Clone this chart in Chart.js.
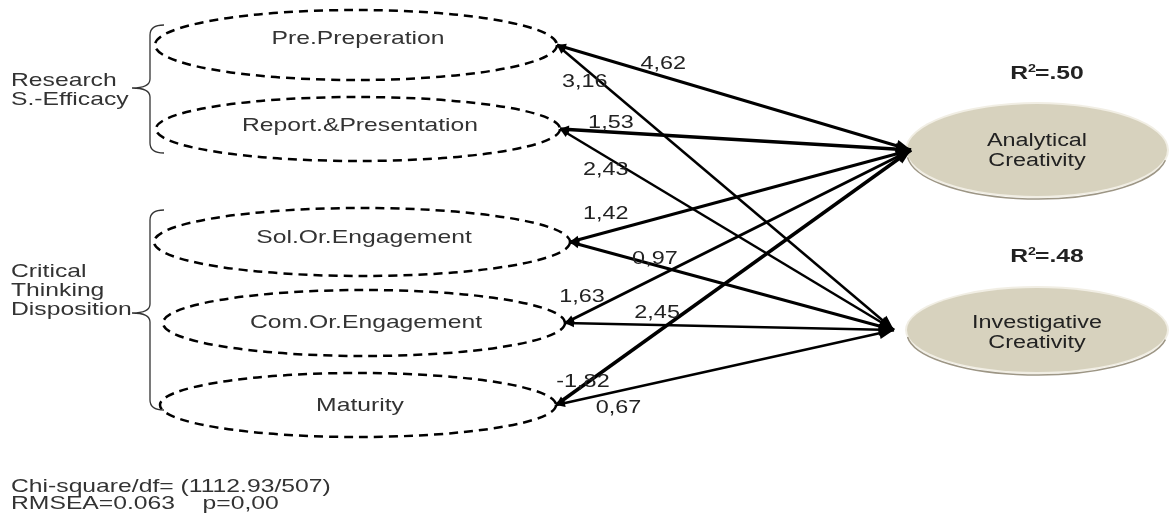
<!DOCTYPE html>
<html>
<head>
<meta charset="utf-8">
<script src="https://cdn.jsdelivr.net/npm/chart.js@4.4.0/dist/chart.umd.min.js"></script>
<style>
  html, body { margin: 0; padding: 0; background: #fff; }
  canvas { display: block; }
</style>
</head>
<body>
<canvas id="sem" width="1173" height="522"></canvas>
<script>
// path model content
const predictors = ["Pre.Preperation", "Report.&Presentation", "Sol.Or.Engagement", "Com.Or.Engagement", "Maturity"];
const outcomes = [["Analytical", "Creativity"], ["Investigative", "Creativity"]];
const toAnalytical = [4.62, 1.53, 1.42, 1.63, -1.82];
const toInvestigative = [3.16, 2.43, 0.97, 2.45, 0.67];
const rSquared = [".50", ".48"];
const groupLabels = [["Research", "S.-Efficacy"], ["Critical", "Thinking", "Disposition"]];
const fitLines = ["Chi-square/df= (1112.93/507)", "RMSEA=0.063    p=0,00"];

// layout (scale units equal canvas pixels here)
const predBox = [
  { cx: 356, cy: 45, rx: 201, ry: 35, textOff: -1 },
  { cx: 358, cy: 129, rx: 202, ry: 32, textOff: 2 },
  { cx: 362, cy: 242, rx: 208, ry: 34, textOff: 1 },
  { cx: 364, cy: 323, rx: 201, ry: 33, textOff: 5 },
  { cx: 358, cy: 405, rx: 198, ry: 32, textOff: 6 }
];
const outBox = [
  { cx: 1037, cy: 150, rx: 130, ry: 46, tipX: 911, textOff: -4, rOff: -71 },
  { cx: 1037, cy: 330, rx: 130, ry: 42, tipX: 894, textOff: -2, rOff: -68 }
];
const widthA = [3, 3.5, 3, 3, 3.5];
const widthI = [2.5, 2.5, 3, 2.5, 2.5];
const labelT = { a: [0.3, 0.145, 0.105, 0.049, 0.076], i: [0.13, 0.137, 0.262, 0.28, 0.185] };
const labelDx = { a: [0, 0, 0, 0, 0], i: [-16, 0, 0, 0, 0] };
const labelDy = { a: [-12, -9, -18, -17, -4], i: [0, 13, -6, -12, 17] };

const STRETCH = 1.3;
const FS = 19;
const FONT = '"Liberation Sans", Arial, sans-serif';
const fmt = v => v.toFixed(2).replace('.', ',');

function text(ctx, s, x, y, size, align, bold) {
  ctx.save();
  ctx.font = (bold ? 'bold ' : '') + size + 'px ' + FONT;
  const w = ctx.measureText(s).width * STRETCH;
  let x0 = x;
  if (align === 'center') x0 = x - w / 2;
  else if (align === 'right') x0 = x - w;
  ctx.translate(x0, y);
  ctx.scale(STRETCH, 1);
  ctx.textAlign = 'left';
  ctx.fillText(s, 0, 0);
  ctx.restore();
  return w;
}

const datasets = [];
const paths = [];
predictors.forEach((p, k) => {
  [[toAnalytical, 0, widthA, 'a'], [toInvestigative, 1, widthI, 'i']].forEach(([vals, o, w, key]) => {
    datasets.push({
      label: p + ' -> ' + outcomes[o].join(' '),
      data: [
        { x: predBox[k].cx + predBox[k].rx, y: predBox[k].cy },
        { x: outBox[o].tipX, y: outBox[o].cy }
      ],
      showLine: true,
      borderColor: '#000',
      borderWidth: w[k],
      pointRadius: 0,
      fill: false
    });
    paths.push({ value: vals[k], t: labelT[key][k], dx: labelDx[key][k], dy: labelDy[key][k] });
  });
});

function arrowHead(ctx, x0, y0, x1, y1, len, half) {
  const ang = Math.atan2(y1 - y0, x1 - x0);
  ctx.beginPath();
  ctx.moveTo(x1, y1);
  ctx.lineTo(x1 - len * Math.cos(ang) + half * Math.sin(ang), y1 - len * Math.sin(ang) - half * Math.cos(ang));
  ctx.lineTo(x1 - len * Math.cos(ang) - half * Math.sin(ang), y1 - len * Math.sin(ang) + half * Math.cos(ang));
  ctx.closePath();
  ctx.fill();
}

function brace(ctx, x, top, bottom, tip) {
  ctx.beginPath();
  ctx.moveTo(x + 14, top);
  ctx.quadraticCurveTo(x, top, x, top + 10);
  ctx.lineTo(x, tip - 9);
  ctx.quadraticCurveTo(x, tip, x - 18, tip);
  ctx.quadraticCurveTo(x, tip, x, tip + 9);
  ctx.lineTo(x, bottom - 10);
  ctx.quadraticCurveTo(x, bottom, x + 14, bottom);
  ctx.stroke();
}

const diagram = {
  id: 'diagram',
  beforeDatasetsDraw(chart) {
    const ctx = chart.ctx, xs = chart.scales.x, ys = chart.scales.y;
    ctx.save();
    ctx.strokeStyle = '#000';
    ctx.lineWidth = 2.5;
    ctx.setLineDash([9, 6]);
    predBox.forEach(b => {
      ctx.beginPath();
      ctx.ellipse(xs.getPixelForValue(b.cx), ys.getPixelForValue(b.cy), b.rx, b.ry, 0, 0, Math.PI * 2);
      ctx.stroke();
    });
    ctx.setLineDash([]);
    outBox.forEach(b => {
      const cx = xs.getPixelForValue(b.cx), cy = ys.getPixelForValue(b.cy);
      ctx.beginPath();
      ctx.ellipse(cx, cy, b.rx + 2, b.ry + 2, 0, 0, Math.PI * 2);
      ctx.fillStyle = '#f1eee4';
      ctx.fill();
      ctx.beginPath();
      ctx.ellipse(cx, cy, b.rx, b.ry, 0, 0, Math.PI * 2);
      ctx.fillStyle = '#d7d2be';
      ctx.fill();
      ctx.beginPath();
      ctx.ellipse(cx, cy + 3, b.rx, b.ry, 0, 0.05 * Math.PI, 0.97 * Math.PI);
      ctx.strokeStyle = '#9d9685';
      ctx.lineWidth = 1.5;
      ctx.stroke();
    });
    ctx.restore();
  },
  afterDatasetsDraw(chart) {
    const ctx = chart.ctx, xs = chart.scales.x, ys = chart.scales.y;
    ctx.save();
    ctx.fillStyle = '#000';
    chart.data.datasets.forEach(ds => {
      const [p0, p1] = ds.data;
      const x0 = xs.getPixelForValue(p0.x), y0 = ys.getPixelForValue(p0.y);
      const x1 = xs.getPixelForValue(p1.x), y1 = ys.getPixelForValue(p1.y);
      arrowHead(ctx, x0, y0, x1, y1, 15, 6);
      arrowHead(ctx, x1, y1, x0, y0, 9, 4);
    });
    // path coefficients
    ctx.textBaseline = 'middle';
    ctx.fillStyle = '#222';
    chart.data.datasets.forEach((ds, i) => {
      const [p0, p1] = ds.data;
      const pth = paths[i];
      const x = p0.x + (p1.x - p0.x) * pth.t + pth.dx;
      const y = p0.y + (p1.y - p0.y) * pth.t + pth.dy;
      text(ctx, fmt(pth.value), xs.getPixelForValue(x), ys.getPixelForValue(y), FS - 1, 'center');
    });
    // node labels
    ctx.textBaseline = 'alphabetic';
    ctx.fillStyle = '#333';
    predictors.forEach((p, k) => {
      const b = predBox[k];
      text(ctx, p, xs.getPixelForValue(b.cx + 2), ys.getPixelForValue(b.cy + b.textOff), FS, 'center');
    });
    ctx.fillStyle = '#222';
    outcomes.forEach((lines, o) => {
      const b = outBox[o];
      lines.forEach((ln, j) => {
        text(ctx, ln, xs.getPixelForValue(b.cx), ys.getPixelForValue(b.cy + b.textOff + j * 20), FS - 1, 'center');
      });
    });
    // R squared
    outBox.forEach((b, o) => {
      const x = xs.getPixelForValue(b.cx + 10), y = ys.getPixelForValue(b.cy + b.rOff);
      ctx.font = 'bold ' + FS + 'px ' + FONT;
      const wR = ctx.measureText('R').width * STRETCH;
      const wRest = ctx.measureText('=' + rSquared[o]).width * STRETCH;
      const x0 = x - (wR + 7 + wRest) / 2;
      text(ctx, 'R', x0, y, FS, 'left', true);
      text(ctx, '2', x0 + wR, y - 7, 11, 'left', true);
      text(ctx, '=' + rSquared[o], x0 + wR + 7, y, FS, 'left', true);
    });
    // groups with braces
    ctx.strokeStyle = '#333';
    ctx.lineWidth = 1.3;
    brace(ctx, 150, 25, 153, 88);
    brace(ctx, 150, 210, 410, 313);
    ctx.fillStyle = '#333';
    groupLabels[0].forEach((ln, j) => text(ctx, ln, 11, 86 + j * 19, FS, 'left'));
    groupLabels[1].forEach((ln, j) => text(ctx, ln, 11, 277 + j * 19, FS, 'left'));
    fitLines.forEach((ln, j) => text(ctx, ln, 11, 492 + j * 17, FS, 'left'));
    ctx.restore();
  }
};

new Chart(document.getElementById('sem').getContext('2d'), {
  type: 'scatter',
  data: { datasets: datasets },
  options: {
    responsive: false,
    animation: false,
    devicePixelRatio: 1,
    layout: { padding: 0 },
    plugins: { legend: { display: false }, tooltip: { enabled: false } },
    scales: {
      x: { type: 'linear', min: 0, max: 1173, display: false },
      y: { type: 'linear', min: 0, max: 522, reverse: true, display: false }
    }
  },
  plugins: [diagram]
});
</script>
</body>
</html>
